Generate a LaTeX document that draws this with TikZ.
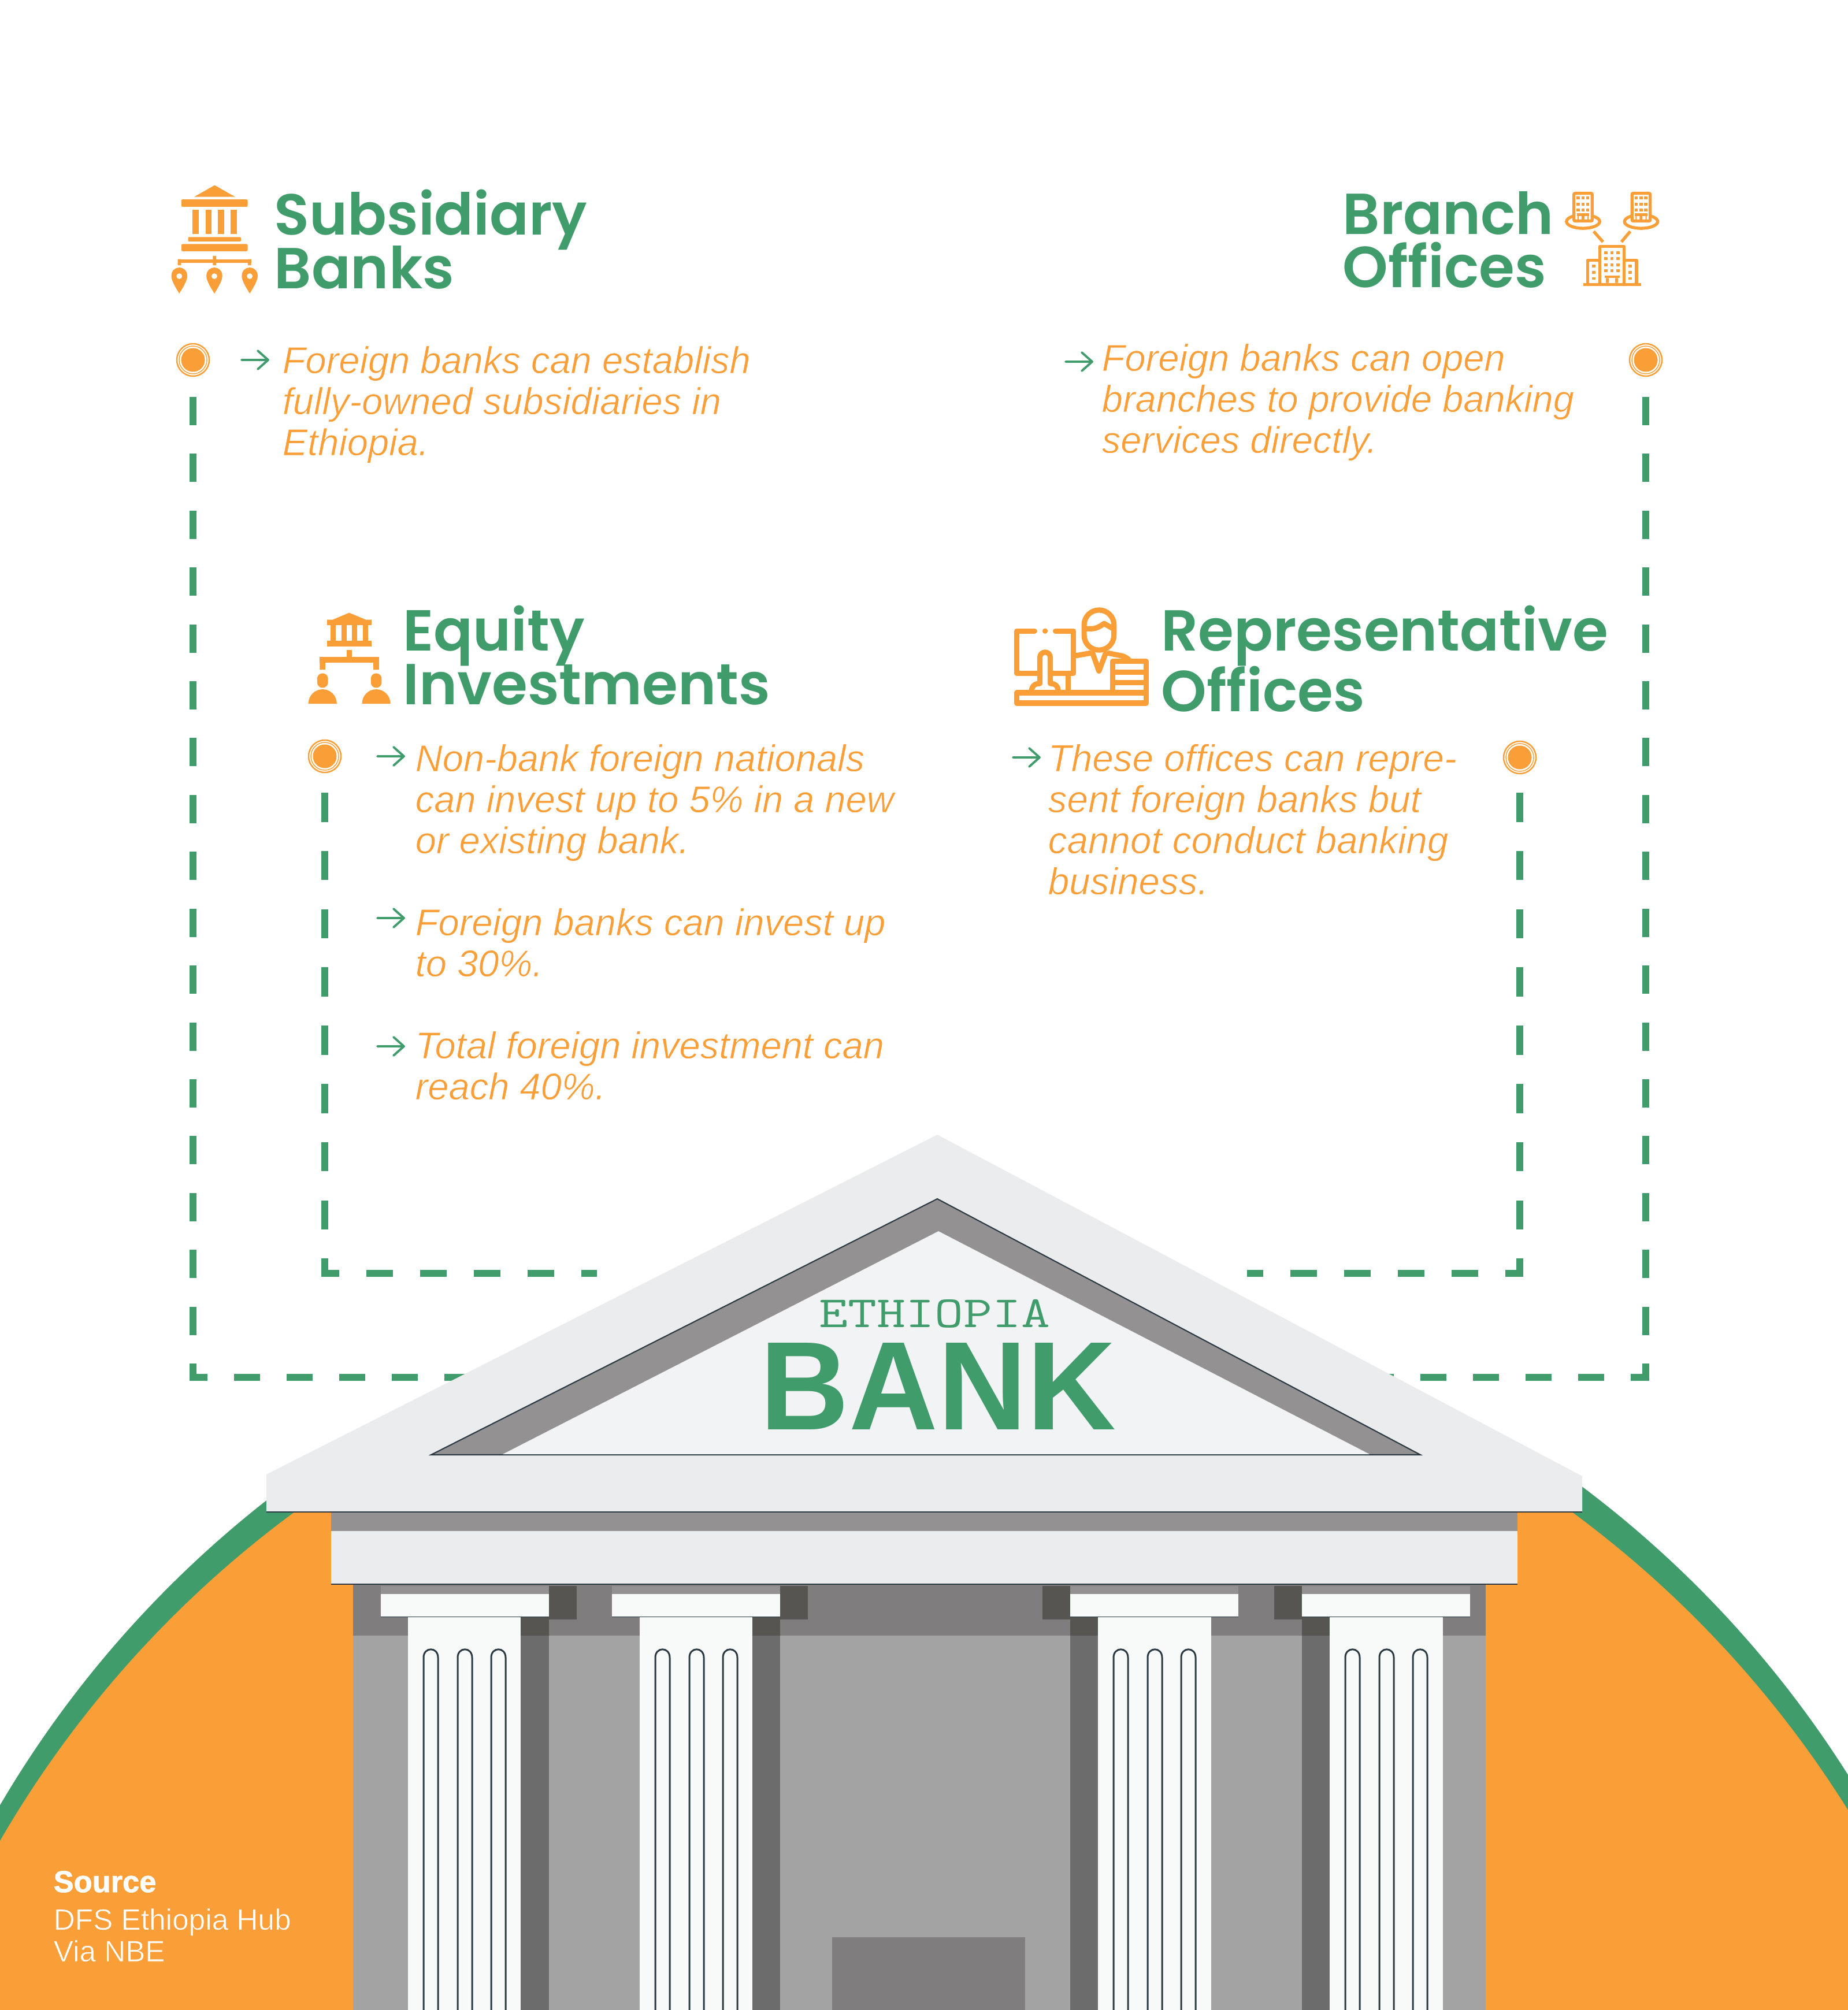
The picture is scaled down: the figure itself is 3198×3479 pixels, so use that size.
\documentclass[tikz,border=0pt]{standalone}
\usepackage{fontspec}
\usepackage{graphicx}
\newfontfamily\headf{Poppins SemiBold}
\newfontfamily\bodyf{Liberation Sans Italic}
\newfontfamily\srcl{Liberation Sans}
\newfontfamily\srcb{Liberation Sans Bold}[FakeBold=1.5]
\newfontfamily\bankf{Liberation Sans Bold}
\definecolor{ora}{HTML}{FA9E38}
\definecolor{gre}{HTML}{419C6C}
\definecolor{wallc}{HTML}{A3A3A3}
\definecolor{bandc}{HTML}{7F7D7D}
\definecolor{darkc}{HTML}{565552}
\definecolor{shadc}{HTML}{6D6C6C}
\definecolor{colc}{HTML}{F8FAFA}
\definecolor{roofc}{HTML}{EBECEE}
\definecolor{pedc}{HTML}{F1F3F5}
\definecolor{capc}{HTML}{939191}
\definecolor{linec}{HTML}{2B3A42}
% thin the regular weight toward the reference's light face
\newcommand\lighter[1]{\special{pdf:code 2 Tr 1 1 1 RG 0.22 w}#1\special{pdf:code 0 Tr}}
\newcommand\lighterora[1]{\special{pdf:code 2 Tr 0.98 0.62 0.22 RG 0.2 w}#1\special{pdf:code 0 Tr}}
\newcommand\headfont{\headf\fontsize{28.45}{26.2}\selectfont\setlength{\lineskiplimit}{-100pt}}
\newcommand\headfontb{\headf\fontsize{28.45}{29.6}\selectfont\setlength{\lineskiplimit}{-100pt}}
\newcommand\bodyfont{\bodyf\fontsize{18.5}{20.2}\selectfont\setlength{\lineskiplimit}{-100pt}}
\newcommand\bodyfontb{\bodyf\fontsize{18.65}{20.2}\selectfont\setlength{\lineskiplimit}{-100pt}}
\tikzset{
  head/.style={anchor=base west,inner sep=0pt,text=gre,align=left,font=\headfont},
  headb/.style={head,font=\headfontb},
  body/.style={anchor=base west,inner sep=0pt,text=ora,align=left,font=\bodyfont},
  bodyb/.style={body,font=\bodyfontb},
  src/.style={anchor=base west,inner sep=0pt,text=white},
  bullet/.style={circle,fill=ora,minimum size=0.41cm,inner sep=0pt},
  ringa/.style={draw=ora,line width=0.7pt},
  ringb/.style={draw=ora,line width=0.4pt},
  dashv/.style={draw=gre,line width=12*0.2845pt,dash pattern=on 0.49cm off 0.4935cm},
  dashw/.style={draw=gre,line width=12*0.2845pt,dash pattern=on 0.505cm off 0.5025cm},
  dashh/.style={draw=gre,line width=12*0.2845pt,dash pattern=on 0.46cm off 0.47cm},
  arrowg/.style={draw=gre,line width=1.1pt,line cap=round,line join=round},
  iconl/.style={draw=ora,line width=1.5pt},
  iconr/.style={draw=ora,line width=2.6pt,line cap=round,line join=round},
  flute/.style={draw=linec,line width=0.85pt},
}
\newcommand\bulletat[3]{%
  \node[bullet] (#1) at (#2,#3) {};
  \draw[ringa] (#1.center) circle (0.28cm);
  \draw[ringb] (#1.center) circle (0.24cm);
}
\newcommand\arrowat[2]{%
  \draw[arrowg] (#1-23,#2) -- (#1+23,#2) (#1+5,#2-16) -- (#1+23,#2) -- (#1+5,#2+16);
}
\newcommand\flutes[1]{%
  \foreach \fa in {27,86,144}{
    \draw[flute] (#1+\fa,3479) -- (#1+\fa,2869) .. controls (#1+\fa,2850) and (#1+\fa+25,2850) .. (#1+\fa+25,2869) -- (#1+\fa+25,3479);
  }
}
\newcommand\colleft[2]{% capital left, column left
  \fill[darkc] (#1+291,2745) rectangle (#1+339,2803);
  \fill[darkc] (#2+195,2798) rectangle (#1+291,2831);
  \fill[shadc] (#2+195,2831) rectangle (#1+291,3479);
  \fill[colc] (#2,2798) rectangle (#2+195,3479);
  \fill[capc] (#1,2745) rectangle (#1+291,2759);
  \fill[colc] (#1,2759) rectangle (#1+291,2798);
  \draw[linec,line width=0.4pt] (#1,2798.5) -- (#1+291,2798.5);
  \flutes{#2}
}
\newcommand\colright[2]{%
  \fill[darkc] (#1-48,2745) rectangle (#1,2803);
  \fill[darkc] (#1,2798) rectangle (#2,2831);
  \fill[shadc] (#1,2831) rectangle (#2,3479);
  \fill[colc] (#2,2798) rectangle (#2+196,3479);
  \fill[capc] (#1,2745) rectangle (#1+291,2759);
  \fill[colc] (#1,2759) rectangle (#1+291,2798);
  \draw[linec,line width=0.4pt] (#1,2798.5) -- (#1+291,2798.5);
  \flutes{#2}
}
\newcommand\pin[1]{%
  \fill[ora,even odd rule] (#1-27,565) .. controls (#1-27,505) and (#1+27,505) .. (#1+27,565) .. controls (#1+27,590) and (#1+8,635) .. (#1,655) .. controls (#1-8,635) and (#1-27,590) .. (#1-27,565) -- cycle
    (#1,565) circle [x radius=10,y radius=15];
}
\newcommand\tower[1]{%
  \draw[iconl] (#1+1147,281) ellipse [x radius=75,y radius=35];
  \draw[iconl,fill=white,rounded corners=0.02cm] (#1+1106,134) rectangle (#1+1188,278);
  \foreach \wx in {1125,1147,1168}{\foreach \wy in {158,190,221}{
    \fill[ora] (#1+\wx-7,\wy-7) rectangle (#1+\wx+7,\wy+7);}}
  \fill[ora] (#1+1119,237) rectangle (#1+1175,252);
  \fill[ora] (#1+1122,252) rectangle (#1+1127,272) (#1+1140,252) rectangle (#1+1153,272) (#1+1167,252) rectangle (#1+1172,272);
}
\begin{document}
\begin{tikzpicture}[x=0.01cm,y=-0.01cm]
\useasboundingbox (0,0) rectangle (3198,3479);
\fill[white] (0,0) rectangle (3198,3479);
\begin{scope}
\clip (0,2555) rectangle (3198,3479);
% ground disc
\fill[gre] (1615,4070) circle (18.70cm);
\fill[ora] (1615,4119) circle (18.636cm);
\end{scope}

% bullets
\bulletat{b1}{334}{623}
\bulletat{b2}{2848}{623}
\bulletat{b3}{562}{1309}
\bulletat{b4}{2630}{1311}

% dashed connectors
\coordinate (o1) at (334,687);
\coordinate (o1c) at (334,2390);
\coordinate (o2) at (2848,687);
\coordinate (o2c) at (2848,2390);
\coordinate (h1a) at (328,2384);
\coordinate (h1b) at (1100,2384);
\coordinate (h2a) at (2854,2384);
\coordinate (h2b) at (2200,2384);
\coordinate (i1) at (562,1372);
\coordinate (i1c) at (562,2210);
\coordinate (i2) at (2630,1372);
\coordinate (i2c) at (2630,2210);
\coordinate (j1a) at (556,2204);
\coordinate (j1b) at (1033,2204);
\coordinate (j2a) at (2636,2204);
\coordinate (j2b) at (2158,2204);
\draw[dashv] (o1) -- (o1c);
\draw[dashv] (o2) -- (o2c);
\draw[dashw] (i1) -- (i1c);
\draw[dashw] (i2) -- (i2c);
\draw[dashh,dash pattern=on 0.45cm off 0.46cm,dash phase=0.14cm] (h1a) -- (h1b);
\draw[dashh,dash pattern=on 0.45cm off 0.46cm,dash phase=0.13cm] (h2a) -- (h2b);
\draw[dashh,dash phase=0.15cm] (j1a) -- (j1b);
\draw[dashh,dash phase=0.15cm] (j2a) -- (j2b);

% building
\fill[wallc] (611,2742) rectangle (2571,3479);
\fill[bandc] (611,2742) rectangle (2571,2831);
\fill[bandc] (1440,3353) rectangle (1774,3479);
\colleft{658.5}{706}
\colleft{1059}{1107}
\colright{1852}{1900}
\colright{2253}{2301}
\fill[roofc] (572.5,2650) rectangle (2626,2742);
\draw[linec,line width=0.6pt] (572.5,2742) -- (2626,2742);
\fill[capc] (572.5,2617) rectangle (2626,2650);
\fill[roofc] (1622,1964) -- (2738,2555) -- (2738,2617) -- (461,2617) -- (461,2552) -- cycle;
\draw[linec,line width=0.6pt] (461,2617) -- (2738,2617);
\draw[draw=linec,line width=0.6pt,fill=capc] (1622,2075) -- (2458,2518) -- (746,2518) -- cycle;
\fill[pedc] (1624,2131) -- (2370,2517) -- (870,2517) -- cycle;

\node[anchor=base west,inner sep=0pt,text=gre] (eth) at (1417,2297) {\scalebox{1.03}[0.82]{\ttfamily\fontsize{26.75}{28}\selectfont ETHIOPIA}};
\node[anchor=base west,inner sep=0pt,text=gre] (bank) at (1315,2474) {\scalebox{0.977}[1]{\bankf\fontsize{62}{64}\selectfont BANK}};

% headings
\node[head] (t1) at (474,499) {Subsidiary\\Banks};
\node[head] (t2) at (2323,498) {Branch\\Offices};
\node[head] (t3) at (697,1219) {Equity\\Investments};
\node[headb] (t4) at (2009,1231) {Representative\\Offices};

% body text
\node[body] (p1) at (488,788) {\lighter{Foreign banks can establish\\fully-owned subsidiaries in\\Ethiopia.}};
\node[body] (p2) at (1906,784) {\lighter{Foreign banks can open\\branches to provide banking\\services directly.}};
\node[body] (p3a) at (718,1477) {\lighter{Non-bank foreign nationals\\can invest up to 5\% in a new\\or existing bank.}};
\node[body] (p3b) at (718,1690) {\lighter{Foreign banks can invest up\\to 30\%.}};
\node[body] (p3c) at (718,1903) {\lighter{Total foreign investment can\\reach 40\%.}};
\node[bodyb] (p4) at (1813,1548) {\lighter{These offices can repre-\\sent foreign banks but\\cannot conduct banking\\business.}};

% arrows
\arrowat{441}{623}
\arrowat{1867}{626}
\arrowat{676}{1309}
\arrowat{676}{1589}
\arrowat{676}{1811}
\arrowat{1776}{1311}

% source
\node[src] (s1) at (92,3275) {\srcb\fontsize{14.9}{16}\selectfont Source};
\node[src,align=left,font=\srcl\fontsize{14.6}{15.6}\selectfont] (s2) at (92,3395) {\lighterora{DFS Ethiopia Hub\\Via NBE}};

% icon: subsidiary
\begin{scope}[shift={(270,290)},x=0.005102cm,y=-0.003333cm]
\fill[ora] (199,92) -- (268,152) -- (130,152) -- cycle;
\fill[ora,rounded corners=0.02cm] (86,166) rectangle (311,204);
\foreach \cx in {124,168,210,253}{\fill[ora] (\cx,219) rectangle (\cx+21,346);}
\fill[ora,rounded corners=0.01cm] (109,362) rectangle (288,384);
\fill[ora,rounded corners=0.02cm] (86,398) rectangle (311,435);
\fill[ora] (74,477) rectangle (323,495);
\fill[ora] (74,477) rectangle (85,508) (312,477) rectangle (323,508) (193,459) rectangle (204,508);
\pin{79}\pin{198}\pin{318}
\end{scope}

% icon: branch
\begin{scope}[shift={(2300,290)},x=0.003827cm,y=-0.003333cm]
\tower{0}\tower{262}
\draw[iconl] (1195,332) -- (1237,387) (1360,332) -- (1320,387);
\draw[iconl,fill=white,line join=round] (1168,605) -- (1168,482) -- (1388,482) -- (1388,605);
\draw[iconl,fill=white,line join=round] (1223,605) -- (1223,411) -- (1333,411) -- (1333,605);
\fill[ora] (1147,600) rectangle (1409,617);
\foreach \wx in {1250,1277,1305}{\foreach \wy in {443,474,506,537}{
  \fill[ora] (\wx-7,\wy-7) rectangle (\wx+7,\wy+7);}}
\foreach \wy in {513,545,577}{
  \fill[ora] (1188,\wy-7) rectangle (1202,\wy+7);
  \fill[ora] (1353,\wy-7) rectangle (1367,\wy+7);}
\fill[ora] (1245,562) rectangle (1312,575);
\fill[ora] (1250,575) rectangle (1264,600) (1292,575) rectangle (1306,600);
\end{scope}

% icon: equity
\begin{scope}[shift={(500,1020)},x=0.003333cm,y=-0.003333cm]
\fill[ora] (198,158) -- (228,158) -- (313,122) -- (400,158) -- (429,158) -- (429,186) -- (198,186) -- cycle;
\foreach \cx in {216,272,328,384}{\fill[ora] (\cx,186) rectangle (\cx+28,270);}
\fill[ora] (198,268) rectangle (429,297);
\fill[ora] (300,315) rectangle (328,352);
\fill[ora] (160,352) rectangle (468,381);
\fill[ora] (160,352) rectangle (189,418) (439,352) rectangle (468,418);
\foreach \px in {175,454}{
  \fill[ora,rounded corners=0.09cm] (\px-28,437) rectangle (\px+28,512);
  \fill[ora] (\px-74,595) arc[start angle=180,end angle=360,x radius=74,y radius=75] -- cycle;
}
\end{scope}

% icon: representative
\begin{scope}[shift={(1730,1020)},x=0.003333cm,y=-0.003333cm]
\draw[iconr] (181,217) -- (89,217) -- (89,437) -- (383,437) -- (383,217) -- (290,217);
\fill[ora] (236,217) circle (0.047cm);
\draw[iconr] (355,437) -- (355,538);
\draw[iconr,fill=white] (165,535) .. controls (165,505) and (180,490) .. (209,490) -- (209,355) .. controls (209,318) and (263,318) .. (263,355) -- (263,490) .. controls (290,490) and (305,505) .. (305,535);
\draw[iconr,rounded corners=0.256cm] (439,108) rectangle (594,316);
\draw[iconr] (447,205) -- (478,205) .. controls (505,205) and (525,190) .. (543,178) -- (590,205);
\draw[iconr] (397,345) -- (470,332);
\draw[iconr] (565,332) -- (630,345) .. controls (655,350) and (665,360) .. (680,375);
\draw[iconr] (484,335) -- (516,425) -- (550,335);
\draw[iconr,fill=white] (587,375) rectangle (761,538);
\draw[iconr] (587,430) -- (761,430) (587,484) -- (761,484);
\draw[iconr,fill=white] (89,538) rectangle (761,592);
\end{scope}
\end{tikzpicture}
\end{document}
